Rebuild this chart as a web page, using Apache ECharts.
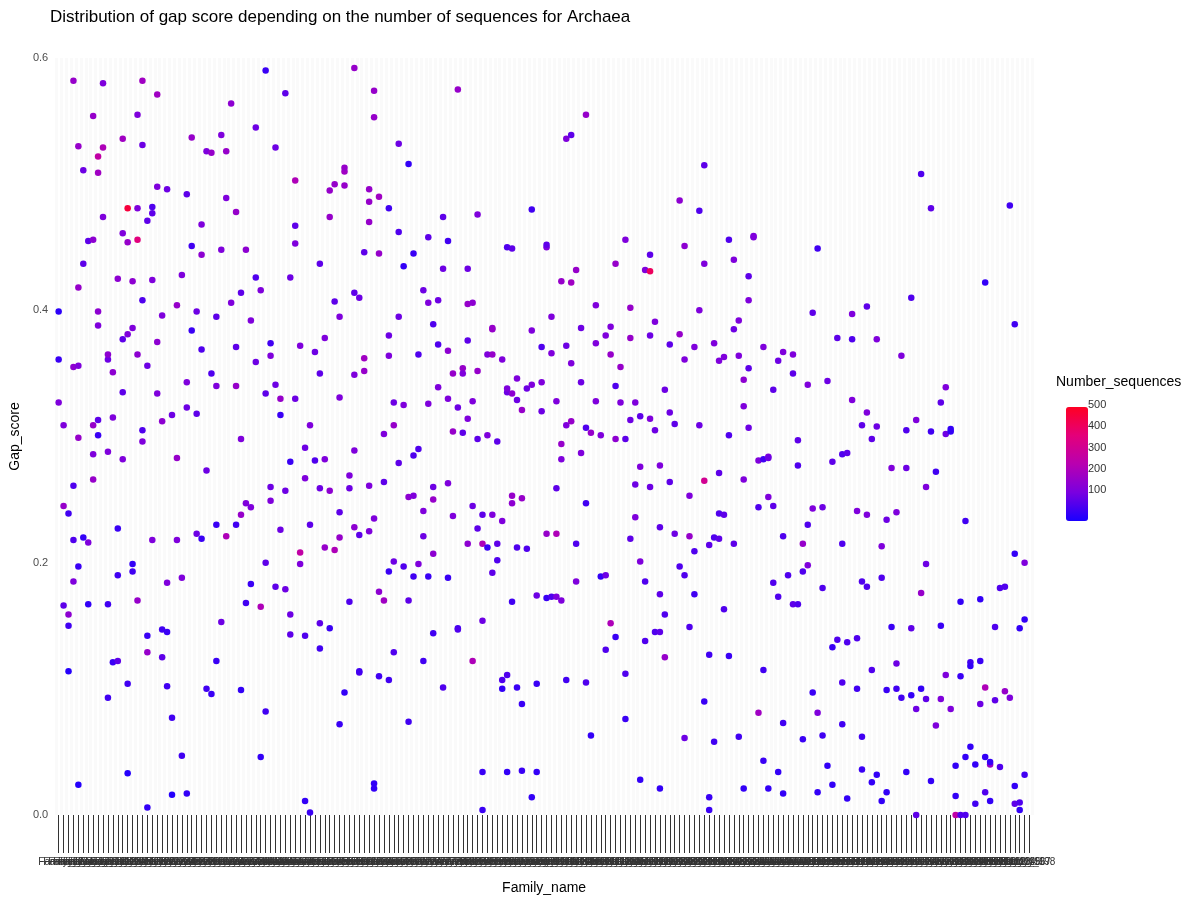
<!DOCTYPE html>
<html><head><meta charset="utf-8">
<script src="https://cdn.jsdelivr.net/npm/echarts@6/dist/echarts.min.js"></script>
<style>html,body{margin:0;padding:0;background:#fff}#c{width:1200px;height:900px}</style>
</head><body><div id="c"></div>
<script>
const familyIdx=[0,0,0,1,1,1,2,2,2,2,3,3,3,3,3,4,4,4,4,4,4,5,5,5,6,6,6,7,7,7,7,7,8,8,8,8,8,8,9,9,9,10,10,10,10,10,11,11,11,12,12,12,12,13,13,13,13,13,14,14,14,14,14,15,15,15,15,16,16,16,16,16,17,17,17,17,17,18,18,18,18,18,19,19,19,19,20,20,20,20,21,21,21,21,22,22,22,22,23,23,23,24,24,24,25,25,25,26,26,26,26,27,27,27,28,28,28,29,29,29,29,30,30,30,31,31,31,32,32,32,32,33,33,33,34,34,34,35,35,36,36,36,36,37,37,37,37,38,38,38,39,39,39,40,40,40,41,41,41,42,42,42,42,43,43,43,43,44,44,44,45,45,45,46,46,46,47,47,47,47,48,48,48,48,49,49,49,50,50,50,50,51,51,51,52,52,53,53,53,53,53,54,54,54,55,55,55,55,56,56,56,57,57,57,57,57,58,58,58,58,59,59,59,60,60,60,60,60,61,61,61,61,62,62,62,63,63,63,63,63,64,64,64,64,64,65,65,65,65,66,66,66,67,67,67,67,67,68,68,68,68,69,69,69,69,70,70,70,71,71,71,71,72,72,72,72,73,73,73,74,74,74,74,75,75,75,75,76,76,76,76,76,77,77,77,78,78,78,79,79,79,79,79,80,80,80,81,81,81,81,82,82,82,83,83,83,83,83,84,84,84,84,85,85,85,85,86,86,86,86,86,87,87,87,88,88,88,88,88,89,89,89,90,90,90,90,91,91,91,91,91,92,92,92,92,92,93,93,93,93,94,94,94,94,95,95,96,96,96,96,97,97,97,98,98,98,99,99,99,99,100,100,100,101,101,101,101,102,102,102,102,103,103,103,103,104,104,104,104,105,105,105,106,106,106,107,107,107,107,108,108,109,109,109,110,110,111,111,111,112,112,112,113,113,113,113,114,114,115,115,115,115,116,116,116,116,117,117,117,118,118,118,118,119,119,119,120,120,120,120,120,121,121,121,122,122,122,122,122,123,123,123,124,124,124,125,125,126,126,126,127,127,127,127,128,128,128,129,129,129,130,130,130,131,131,131,131,132,132,132,132,133,133,133,134,134,134,134,135,135,135,136,136,136,137,137,137,138,138,138,139,139,139,139,140,140,140,140,141,141,142,142,142,143,143,143,143,144,144,144,144,145,145,145,146,146,146,147,147,147,147,148,149,149,149,150,150,150,151,151,151,152,152,152,153,153,153,154,154,154,155,155,155,156,156,157,157,157,158,158,159,159,159,159,160,160,160,161,161,161,162,162,162,163,163,163,163,164,164,164,164,165,165,165,166,166,166,167,167,167,168,168,168,169,169,170,170,170,171,171,172,172,172,173,173,173,174,174,174,175,175,175,176,176,176,177,177,177,178,178,179,179,179,180,180,180,181,181,181,182,182,182,183,183,183,184,184,184,185,185,185,186,186,187,187,187,188,188,188,188,189,189,189,190,190,191,191,192,192,193,193,194,194,194,194,195,195,195,196,196,196,197];
const gapScore=[.399,.361,.327,.309,.245,.166,.159,.114,.239,.150,.185,.218,.261,.582,.355,.530,.356,.197,.418,.024,.299,.511,.437,.220,.455,.167,.216,.309,.266,.286,.554,.456,.509,.399,.301,.313,.522,.388,.474,.580,.529,.361,.288,.365,.167,.093,.315,.351,.121,.122,.190,.227,.425,.461,.536,.282,.335,.377,.481,.104,.033,.454,.381,.193,.386,.199,.423,.170,.456,.555,.481,.365,.408,.582,.296,.531,.305,.129,.006,.471,.356,.142,.482,.477,.424,.218,.334,.571,.498,.375,.312,.396,.147,.125,.145,.184,.102,.496,.077,.317,.016,.283,.404,.218,.428,.188,.047,.343,.492,.323,.017,.451,.384,.537,.399,.318,.223,.444,.468,.219,.369,.273,.526,.100,.350,.096,.525,.340,.230,.122,.395,.539,.153,.448,.221,.526,.489,.406,.564,.340,.478,.230,.371,.414,.099,.238,.298,.247,.448,.168,.392,.244,.183,.426,.545,.359,.165,.046,.416,.334,.082,.590,.200,.260,.374,.249,.364,.341,.529,.181,.330,.317,.226,.572,.257,.179,.159,.426,.280,.143,.330,.503,.467,.453,.199,.372,.208,.011,.267,.291,.142,.002,.309,.230,.367,.281,.350,.437,.152,.132,.259,.282,.378,.212,.474,.148,.495,.257,.500,.407,.210,.395,.072,.331,.240,.220,.499,.510,.513,.097,.269,.259,.169,.592,.228,.414,.289,.349,.113,.222,.410,.114,.446,.362,.352,.225,.261,.486,.496,.470,.574,.235,.025,.553,.021,.110,.445,.177,.490,.264,.170,.302,.380,.193,.481,.364,.107,.327,.309,.201,.129,.395,.462,.532,.279,.197,.435,.325,.170,.516,.252,.074,.445,.253,.285,.189,.290,.199,.365,.416,.221,.241,.122,.189,.458,.326,.406,.260,.144,.207,.389,.250,.373,.339,.408,.433,.474,.101,.330,.368,.263,.455,.188,.350,.237,.304,.148,.323,.575,.147,.354,.303,.350,.376,.405,.215,.433,.314,.406,.328,.245,.122,.476,.227,.298,.352,.154,.238,.215,.004,.034,.212,.301,.365,.386,.385,.238,.365,.192,.215,.202,.296,.361,.100,.107,.233,.111,.335,.450,.034,.338,.253,.247,.334,.449,.169,.101,.346,.329,.212,.035,.088,.321,.251,.211,.338,.384,.014,.480,.341,.034,.174,.104,.320,.371,.343,.223,.172,.450,.452,.395,.366,.173,.328,.259,.223,.173,.282,.423,.294,.170,.372,.107,.309,.536,.358,.422,.539,.312,.215,.432,.185,.386,.343,.287,.555,.105,.307,.247,.063,.303,.328,.374,.404,.301,.189,.190,.131,.380,.365,.387,.152,.437,.298,.141,.340,.355,.327,.076,.298,.112,.456,.378,.402,.313,.219,.327,.262,.236,.201,.028,.276,.316,.138,.185,.432,.314,.380,.431,.260,.444,.305,.145,.391,.145,.175,.228,.277,.021,.337,.125,.159,.319,.264,.373,.223,.310,.381,.487,.197,.361,.451,.061,.190,.149,.221,.253,.175,.371,.209,.309,.479,.400,.265,.437,.090,.515,.214,.127,.014,.004,.220,.374,.058,.239,.360,.219,.271,.238,.163,.363,.456,.126,.301,.440,.215,.385,.364,.062,.392,.345,.021,.324,.266,.427,.408,.307,.354,.459,.458,.244,.281,.081,.282,.115,.043,.371,.284,.021,.252,.283,.184,.337,.245,.360,.173,.034,.367,.073,.221,.017,.190,.350,.167,.365,.297,.167,.277,.193,.060,.215,.198,.341,.230,.398,.243,.097,.018,.449,.081,.244,.180,.063,.039,.344,.280,.133,.024,.139,.378,.105,.286,.215,.072,.013,.287,.137,.377,.397,.329,.140,.100,.241,.309,.185,.062,.036,.181,.319,.403,.238,.115,.026,.298,.377,.308,.032,.188,.011,.213,.099,.234,.018,.275,.149,.240,.100,.120,.364,.093,.275,.034,.305,.148,.410,.095,.000,.084,.313,.176,.508,.100,.092,.260,.199,.481,.304,.027,.071,.272,.150,.092,.327,.111,.339,.302,.304,.084,.306,.039,.015,.000,.110,.000,.169,.046,.000,.233,.121,.118,.054,.040,.009,.122,.088,.171,.046,.018,.101,.422,.011,.040,.042,.091,.149,.038,.180,.181,.098,.483,.093,.389,.207,.023,.009,.148,.004,.010,.200,.155,.032,.083];
const numSeq=[30,50,150,150,200,100,180,20,60,60,150,80,80,200,180,200,150,50,200,20,200,120,100,40,100,40,150,200,200,150,200,180,220,180,50,100,300,150,150,150,250,120,150,180,60,60,150,180,50,100,60,50,180,150,220,150,100,100,500,60,20,200,150,60,150,40,180,200,400,150,150,180,80,220,150,120,80,200,40,100,120,50,80,100,150,150,150,220,150,180,180,150,60,100,50,150,60,120,60,120,20,200,200,150,150,150,60,150,100,120,40,60,50,200,120,100,120,180,150,50,80,120,150,60,80,50,200,150,50,50,100,150,120,150,250,200,150,150,180,200,200,60,100,100,40,200,150,150,180,60,150,150,50,80,120,120,250,40,150,100,60,50,100,120,60,150,150,120,120,100,200,50,120,100,120,120,120,120,50,100,120,250,100,150,150,150,300,40,150,120,80,50,150,100,120,80,100,100,100,60,120,150,150,200,200,50,200,180,200,100,250,150,50,150,100,200,200,220,200,40,150,120,80,200,180,100,150,150,80,100,120,60,100,220,200,150,150,200,200,200,200,150,40,200,40,60,200,180,220,100,220,150,120,50,60,150,60,120,200,120,80,120,80,120,100,80,40,150,100,40,180,60,50,150,80,60,80,150,80,120,120,150,60,50,100,150,150,120,60,180,80,200,80,150,120,120,100,80,150,180,150,60,50,200,150,200,60,120,200,80,200,100,150,100,200,180,120,150,180,150,120,250,150,100,100,200,120,100,250,50,50,50,150,150,200,200,150,200,100,100,80,100,150,40,80,150,80,120,80,40,150,200,180,180,100,60,50,150,120,80,50,50,200,200,80,120,150,40,60,150,40,120,50,120,80,150,200,50,150,100,150,150,80,150,100,250,150,150,200,200,150,120,60,150,150,150,220,100,200,80,200,150,120,120,150,200,80,80,60,40,200,150,150,150,150,40,120,80,150,200,150,250,200,180,50,80,200,150,50,100,80,150,200,200,120,100,150,120,150,150,40,150,100,80,80,150,150,120,450,120,100,120,80,150,100,100,100,150,40,120,200,80,120,100,100,120,100,200,180,80,150,180,120,80,80,200,150,60,150,80,120,80,150,350,150,50,100,100,60,50,50,80,150,60,80,150,100,100,100,80,150,80,50,80,150,100,120,150,60,150,180,40,150,150,100,150,120,100,150,150,80,150,220,60,60,50,150,150,40,150,120,80,100,100,120,80,40,150,60,80,40,80,100,100,150,100,80,80,80,50,200,150,150,80,100,150,50,40,60,150,120,80,60,40,120,100,50,40,80,100,80,80,80,60,40,100,80,80,150,150,80,60,150,100,80,60,50,80,150,100,150,80,40,100,150,120,40,80,40,150,50,120,40,150,50,150,60,120,150,60,120,40,80,100,80,40,100,120,150,200,80,40,100,150,120,100,60,40,150,60,50,150,100,150,150,120,40,150,40,40,40,300,50,80,40,40,80,60,60,40,40,40,60,50,120,40,40,80,250,40,40,200,40,100,80,80,80,80,200,60,150,60,40,40,100,40,40,80,150,40,60];
const nFamilies=198;
const families=[];for(let i=0;i<nFamilies;i++)families.push('Family_'+(i+1));
const legendTicks=[100,200,300,400,500];
const colorMin=5,colorMax=540;

const points=familyIdx.map((f,i)=>[f,gapScore[i],numSeq[i]]);
const chart=echarts.init(document.getElementById('c'));
const lgTop=397,lgH=114;
chart.setOption({
  backgroundColor:'#fff',
  title:{text:'Distribution of gap score depending on the number of sequences for Archaea',left:45,top:4,textStyle:{fontFamily:'Liberation Sans',fontSize:17,fontWeight:'normal',color:'#000'}},
  grid:{left:44,right:168,top:58,bottom:82},
  xAxis:{type:'category',data:families,boundaryGap:true,name:'Family_name',nameLocation:'middle',nameGap:66,
    nameTextStyle:{fontFamily:'Liberation Sans',fontSize:14,color:'#000'},
    axisLine:{show:false},axisTick:{show:true,alignWithLabel:true,length:38,lineStyle:{color:'#333',width:1}},
    axisLabel:{interval:0,fontSize:10,color:'#333',margin:42,fontFamily:'Liberation Sans'},
    splitLine:{show:true,interval:0,lineStyle:{color:'#fafafa',width:3}}},
  yAxis:{type:'value',min:0,max:0.6,interval:0.2,name:'Gap_score',nameLocation:'middle',nameGap:30,
    nameTextStyle:{fontFamily:'Liberation Sans',fontSize:14,color:'#000'},
    axisLabel:{formatter:v=>v.toFixed(1),color:'#4d4d4d',fontSize:11,fontFamily:'Liberation Sans'},
    axisLine:{show:false},axisTick:{show:false},splitLine:{show:false}},
  visualMap:{type:'continuous',min:colorMin,max:colorMax,dimension:2,calculable:false,showLabel:false,text:null,
    left:1051,top:lgTop-5,itemWidth:22,itemHeight:lgH,
    inRange:{color:['#1a00ff','#7a00e0','#b800b0','#e4007a','#ff0022']}},
  graphic:[{type:'text',left:1056,top:375,style:{text:'Number_sequences',font:'14px Liberation Sans',fill:'#000'}}]
    .concat(legendTicks.map(t=>({type:'text',left:1088,top:lgTop+lgH*(colorMax-t)/(colorMax-colorMin)-6,style:{text:String(t),font:'11px Liberation Sans',fill:'#333'}}))),
  series:[{type:'scatter',data:points,symbolSize:6.5,itemStyle:{opacity:1}}]
});
</script></body></html>
